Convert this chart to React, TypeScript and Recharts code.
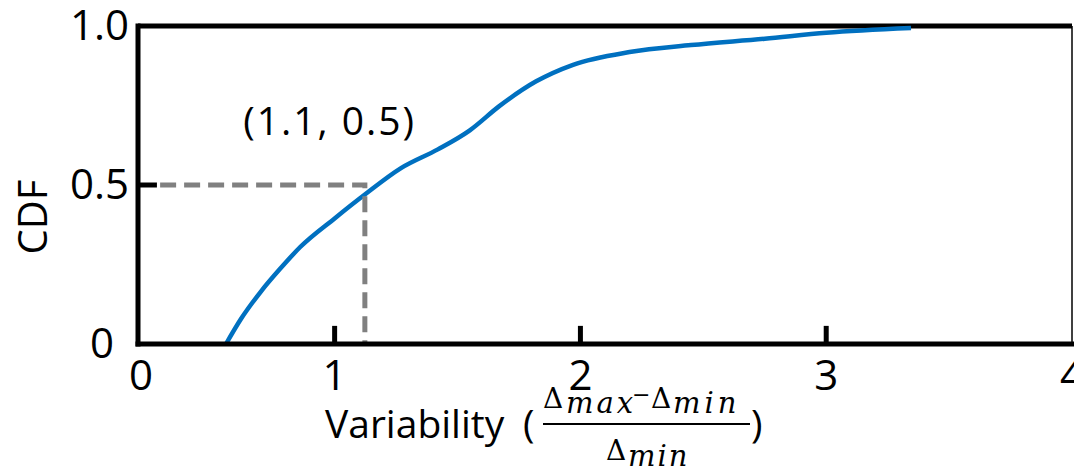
import { LineChart, Line, XAxis, YAxis, ReferenceLine, ReferenceDot } from "recharts";

// CDF curve
const variability = [0.558, 0.62, 0.7, 0.78, 0.86, 1.0, 1.123, 1.27, 1.42, 1.55, 1.67, 1.82, 1.97, 2.2, 2.45, 2.75, 3.0, 3.345];
const cdf = [0, 0.08, 0.165, 0.238, 0.305, 0.395, 0.47, 0.553, 0.612, 0.672, 0.748, 0.826, 0.878, 0.918, 0.94, 0.96, 0.979, 0.994];

// dashed guide down to the median point
const guideX = [0.29, 1.123, 1.123];
const guideY = [0.5, 0.5, 0];
const medianPoint = { x: 1.1, y: 0.5 };

const xTicks = [0.2, 1, 2, 3, 4];
const xTickLabels = ["0", "1", "2", "3", "4"];
const yTicks = [0, 0.5, 1];
const yTickLabels = ["0", "0.5", "1.0"];
const innerXTicks = [1, 2, 3];

const curve = variability.map((v, i) => ({ x: v, y: cdf[i] }));
const guide = guideX.map((v, i) => ({ x: v, y: guideY[i] }));

const sans = "'Open Sans', sans-serif";
const math = "'DejaVu Serif', serif";

const XTick = ({ x, y, payload }: any) => {
  const label = xTickLabels[xTicks.indexOf(payload.value)];
  return (
    <text x={x + (label === "0" ? 3 : 0)} y={y + 46} textAnchor="middle" fontFamily={sans} fontSize={42} fill="#000">
      {label}
    </text>
  );
};

const YTick = ({ x, y, payload }: any) => {
  const label = yTickLabels[yTicks.indexOf(payload.value)];
  return (
    <text x={x - (label === "0" ? 24 : 9)} y={y + 14} textAnchor="end" fontFamily={sans} fontSize={42} fill="#000">
      {label}
    </text>
  );
};

const CdfLabel = () => (
  <text x={47} y={217} transform="rotate(-90 47 217)" textAnchor="middle" fontFamily={sans} fontSize={40} fill="#000">
    CDF
  </text>
);

// Variability ((Δmax − Δmin) / Δmin)
const XLabel = () => (
  <g fill="#000">
    <text x={325} y={438} fontFamily={sans} fontSize={39}>Variability</text>
    <text x={523} y={438} fontFamily={sans} fontSize={39}>(</text>
    <text x={543} y={408} fontFamily={math} fontSize={28}>Δ</text>
    <text x={566} y={413} fontFamily={math} fontStyle="italic" fontSize={29} letterSpacing={3}>max</text>
    <text x={632} y={402} fontFamily={math} fontSize={22}>−</text>
    <text x={651} y={408} fontFamily={math} fontSize={28}>Δ</text>
    <text x={673} y={413} fontFamily={math} fontStyle="italic" fontSize={29} letterSpacing={4}>min</text>
    <line x1={543} x2={750} y1={424} y2={424} stroke="#000" strokeWidth={2} />
    <text x={606} y={460} fontFamily={math} fontSize={28}>Δ</text>
    <text x={628} y={466} fontFamily={math} fontStyle="italic" fontSize={29} letterSpacing={2}>min</text>
    <text x={751} y={438} fontFamily={sans} fontSize={39}>)</text>
  </g>
);

const MedianLabel = ({ viewBox }: any) => (
  <text x={viewBox.x - 116} y={viewBox.y - 50} fontFamily={sans} fontSize={39} letterSpacing={2} fill="#000">
    (1.1, 0.5)
  </text>
);

export default function App() {
  return (
    <div style={{ position: "absolute", left: 0, top: 0 }}>
      <LineChart width={1074} height={472} data={curve} margin={{ top: 26, right: 2, bottom: 68, left: 58 }}>
        <XAxis
          dataKey="x"
          type="number"
          domain={[0.2, 4]}
          ticks={xTicks}
          interval={0}
          allowDataOverflow
          height={60}
          tickSize={0}
          tickMargin={0}
          tickLine={false}
          axisLine={{ stroke: "#000", strokeWidth: 5, strokeLinecap: "square" }}
          tick={<XTick />}
          label={XLabel}
        />
        <YAxis
          type="number"
          domain={[0, 1]}
          ticks={yTicks}
          interval={0}
          width={80}
          tickSize={0}
          tickMargin={0}
          tickLine={false}
          axisLine={{ stroke: "#000", strokeWidth: 5, strokeLinecap: "square" }}
          tick={<YTick />}
          label={CdfLabel}
        />
        <ReferenceLine y={1} stroke="#000" strokeWidth={5} />
        <ReferenceLine x={4} stroke="#000" strokeWidth={1.5} />
        {innerXTicks.map((t) => (
          <ReferenceLine key={t} segment={[{ x: t, y: 0 }, { x: t, y: 0.057 }]} stroke="#000" strokeWidth={5} />
        ))}
        <ReferenceLine segment={[{ x: 0.2, y: 0.5 }, { x: 0.277, y: 0.5 }]} stroke="#000" strokeWidth={5} />
        <Line
          type="monotone"
          dataKey="y"
          stroke="#0070C0"
          strokeWidth={4.5}
          dot={false}
          activeDot={false}
          isAnimationActive={false}
        />
        <Line
          data={guide}
          type="linear"
          dataKey="y"
          stroke="#808080"
          strokeWidth={5}
          strokeDasharray="16 8"
          dot={false}
          activeDot={false}
          isAnimationActive={false}
        />
        <ReferenceDot x={medianPoint.x} y={medianPoint.y} r={0} fill="none" stroke="none" label={MedianLabel} />
      </LineChart>
    </div>
  );
}
